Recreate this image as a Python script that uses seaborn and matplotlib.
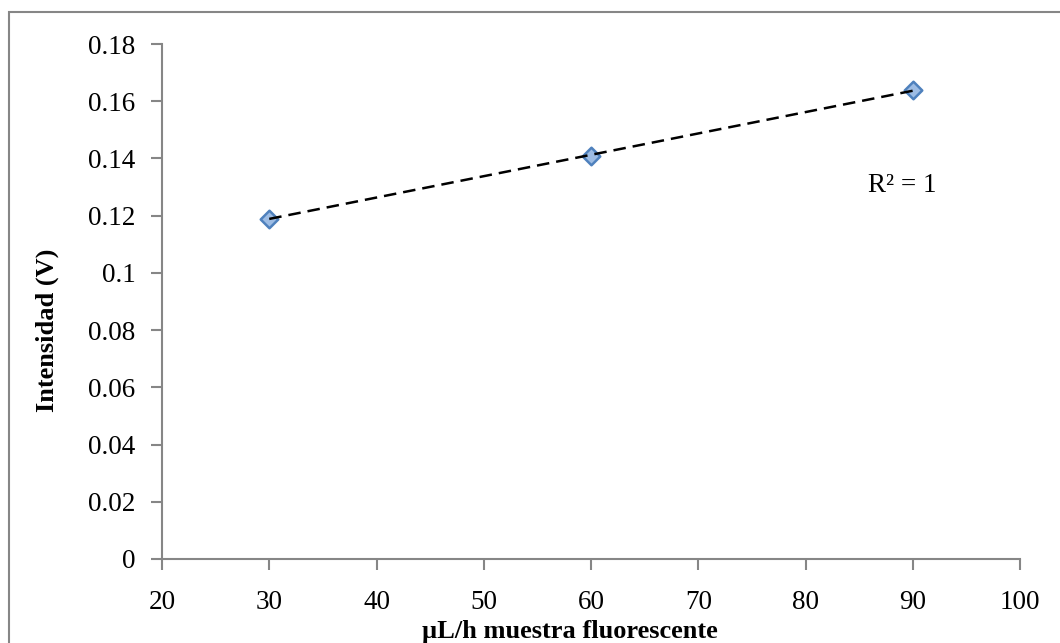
import numpy as np
import pandas as pd
import matplotlib
matplotlib.use("Agg")
import matplotlib.pyplot as plt
import matplotlib.patches as mpatches
import seaborn as sns

# Data
flow_ul_h = [30, 60, 90]
intensity_v = [0.119, 0.141, 0.1638]
x_ticks = [20, 30, 40, 50, 60, 70, 80, 90, 100]
y_ticks = [0, 0.02, 0.04, 0.06, 0.08, 0.1, 0.12, 0.14, 0.16, 0.18]
y_tick_labels = ["0", "0.02", "0.04", "0.06", "0.08", "0.1", "0.12", "0.14", "0.16", "0.18"]
x_label = "µL/h muestra fluorescente"
y_label = "Intensidad (V)"
r2_text = "R² = 1"

df = pd.DataFrame({"x": flow_ul_h, "y": intensity_v})

sns.set_theme(style="white")
plt.rcParams["font.family"] = ["Liberation Serif", "DejaVu Serif"]
plt.rcParams["text.color"] = "black"
plt.rcParams["axes.labelcolor"] = "black"

fig = plt.figure(figsize=(10.6, 6.43), dpi=100)
ax = fig.add_axes([162/1060, 1-559/643, (1020-162)/1060, (559-44)/643])

gray = "#868686"

# Chart area border
border = mpatches.Rectangle((9/1060, -0.05), 1.2, 1.05 - 12/643, transform=fig.transFigure,
                            fill=False, edgecolor=gray, linewidth=1.5, clip_on=False)
fig.patches.append(border)

sns.scatterplot(data=df, x="x", y="y", ax=ax, marker="D", s=80,
                color="#9DBCE4", edgecolor="#4F81BD", linewidth=1.8, zorder=3)

# Linear trendline
coef = np.polyfit(flow_ul_h, intensity_v, 1)
xs = np.array([min(flow_ul_h), max(flow_ul_h)])
ax.plot(xs, np.polyval(coef, xs), color="black", linestyle=(0, (5, 2.8)), linewidth=1.8, zorder=4)

ax.set_xlim(20, 100)
ax.set_ylim(0, 0.18)
ax.set_xticks(x_ticks)
ax.set_xticklabels([str(t) for t in x_ticks])
ax.set_yticks(y_ticks)
ax.set_yticklabels(y_tick_labels)

for side in ["top", "right"]:
    ax.spines[side].set_visible(False)
for side in ["left", "bottom"]:
    ax.spines[side].set_color(gray)
    ax.spines[side].set_linewidth(1.5)

ax.tick_params(axis="both", which="major", direction="out", length=8, width=1.5,
               color=gray, labelsize=19.5, labelcolor="black")
ax.tick_params(axis="x", pad=14)
ax.tick_params(axis="y", pad=11)
ax.tick_params(left=True, bottom=True)

ax.set_xlabel(x_label, fontsize=19, fontweight="bold", color="black")
ax.set_ylabel(y_label, fontsize=19, fontweight="bold", color="black")
ax.xaxis.set_label_coords(0.475, -0.118)
ax.yaxis.set_label_coords(-0.12, 0.445)

ax.text(85.8, 0.1307, r2_text, fontsize=19.5, ha="left", va="center", color="black")

fig.savefig("out.png", dpi=100)
